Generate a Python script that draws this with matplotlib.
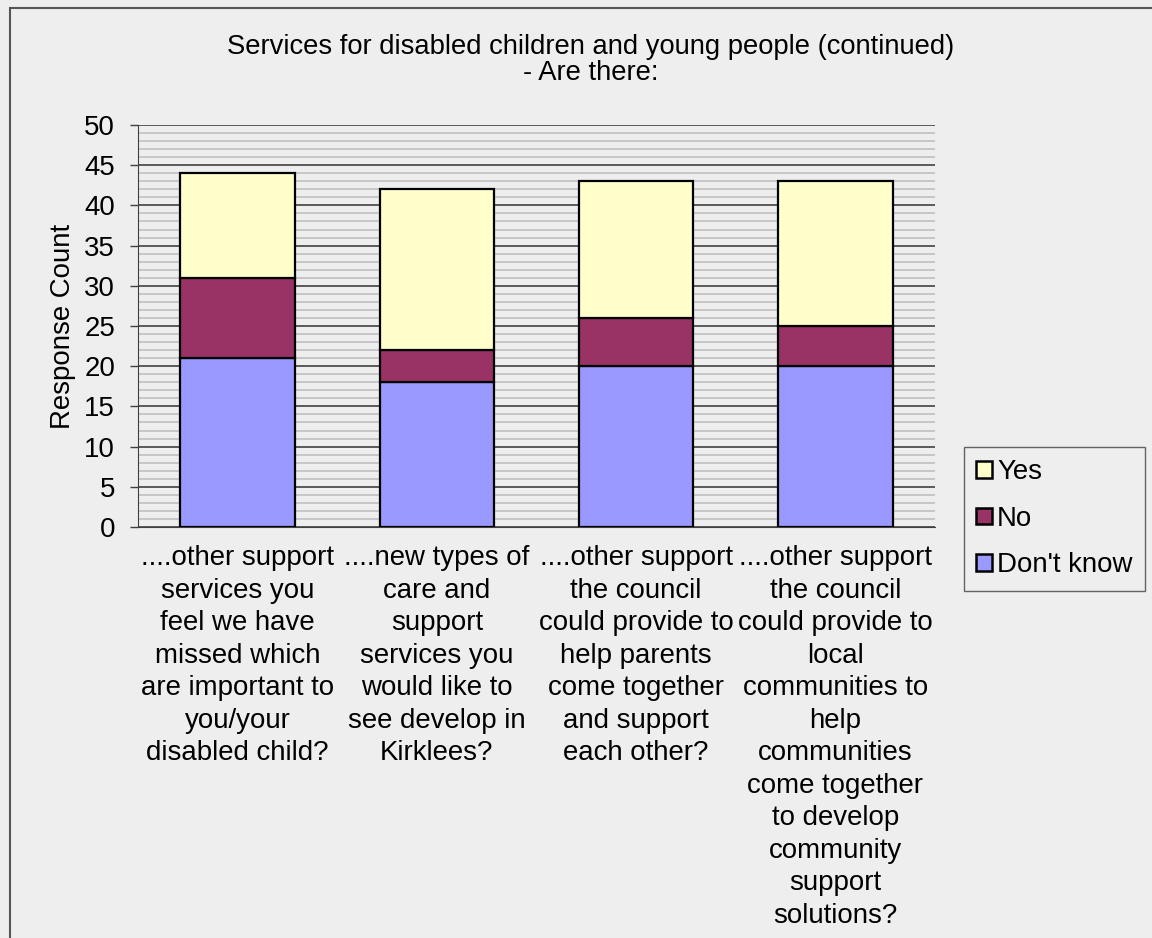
import matplotlib
matplotlib.use("Agg")
import matplotlib.pyplot as plt
import numpy as np
from matplotlib.patches import Rectangle

# Survey answers per question
categories = [
    "....other support\nservices you\nfeel we have\nmissed which\nare important to\nyou/your\ndisabled child?",
    "....new types of\ncare and\nsupport\nservices you\nwould like to\nsee develop in\nKirklees?",
    "....other support\nthe council\ncould provide to\nhelp parents\ncome together\nand support\neach other?",
    "....other support\nthe council\ncould provide to\nlocal\ncommunities to\nhelp\ncommunities\ncome together\nto develop\ncommunity\nsupport\nsolutions?",
]
dont_know = [21, 18, 20, 20]
no = [10, 4, 6, 5]
yes = [13, 20, 17, 18]

bg = "#EEEEEE"
fs = 19.9
plt.rcParams["font.family"] = ["Liberation Sans", "DejaVu Sans"]

fig = plt.figure(figsize=(11.52, 9.38), dpi=100, facecolor=bg)
# outer chart frame
fig.patches.append(Rectangle((10 / 1152, -0.05), 1.2, 1 - 8 / 938 + 0.05,
                             transform=fig.transFigure, fill=False,
                             edgecolor="#555555", linewidth=1.5))

ax = fig.add_axes([138 / 1152, 1 - 527 / 938, (935 - 138) / 1152, (527 - 125) / 938])
ax.set_facecolor(bg)

x = np.arange(len(categories))
w = 0.575
dk = np.array(dont_know)
nn = np.array(no)
ys = np.array(yes)
ax.bar(x, dk, w, color="#9999FF", edgecolor="black", linewidth=1.6, label="Don't know", zorder=3)
ax.bar(x, nn, w, bottom=dk, color="#993366", edgecolor="black", linewidth=1.6, label="No", zorder=3)
ax.bar(x, ys, w, bottom=dk + nn, color="#FFFFCC", edgecolor="black", linewidth=1.6, label="Yes", zorder=3)

ax.set_xlim(-0.5, len(categories) - 0.5)
ax.set_ylim(0, 50)
ax.set_yticks(np.arange(0, 51, 5))
ax.set_yticks(np.arange(0, 51, 1), minor=True)
ax.grid(axis="y", which="minor", color="#C0C0C0", linewidth=1.2, zorder=0)
ax.grid(axis="y", which="major", color="#404040", linewidth=1.2, zorder=1)
ax.tick_params(axis="y", which="major", labelsize=fs, length=6, width=1, color="#404040", pad=10.5)
ax.tick_params(axis="y", which="minor", length=0)
ax.set_xticks(x)
ax.set_xticklabels(categories, fontsize=fs, linespacing=1.325)
ax.tick_params(axis="x", length=0, pad=13)
for s in ["top", "right"]:
    ax.spines[s].set_visible(False)
ax.spines["left"].set_color("#404040")
ax.spines["bottom"].set_color("#404040")
ax.set_ylabel("Response Count", fontsize=fs, labelpad=6)

fig.text(591 / 1152, 1 - 60 / 938,
         "Services for disabled children and young people (continued)\n- Are there:",
         ha="center", va="center", fontsize=19.7, linespacing=0.98)

h, l = ax.get_legend_handles_labels()
leg = fig.legend(h[::-1], l[::-1], loc="upper left",
                 bbox_to_anchor=(964 / 1152, 1 - 447 / 938),
                 fontsize=fs, frameon=True, fancybox=False,
                 handlelength=0.55, handleheight=0.55, handletextpad=0.2,
                 labelspacing=0.74, borderpad=0.45, borderaxespad=0)
leg.get_frame().set_edgecolor("#404040")
leg.get_frame().set_facecolor(bg)
leg.get_frame().set_linewidth(1.0)
for p in leg.get_patches():
    p.set_linewidth(1.8)

fig.savefig("out.png", dpi=100, facecolor=bg)
